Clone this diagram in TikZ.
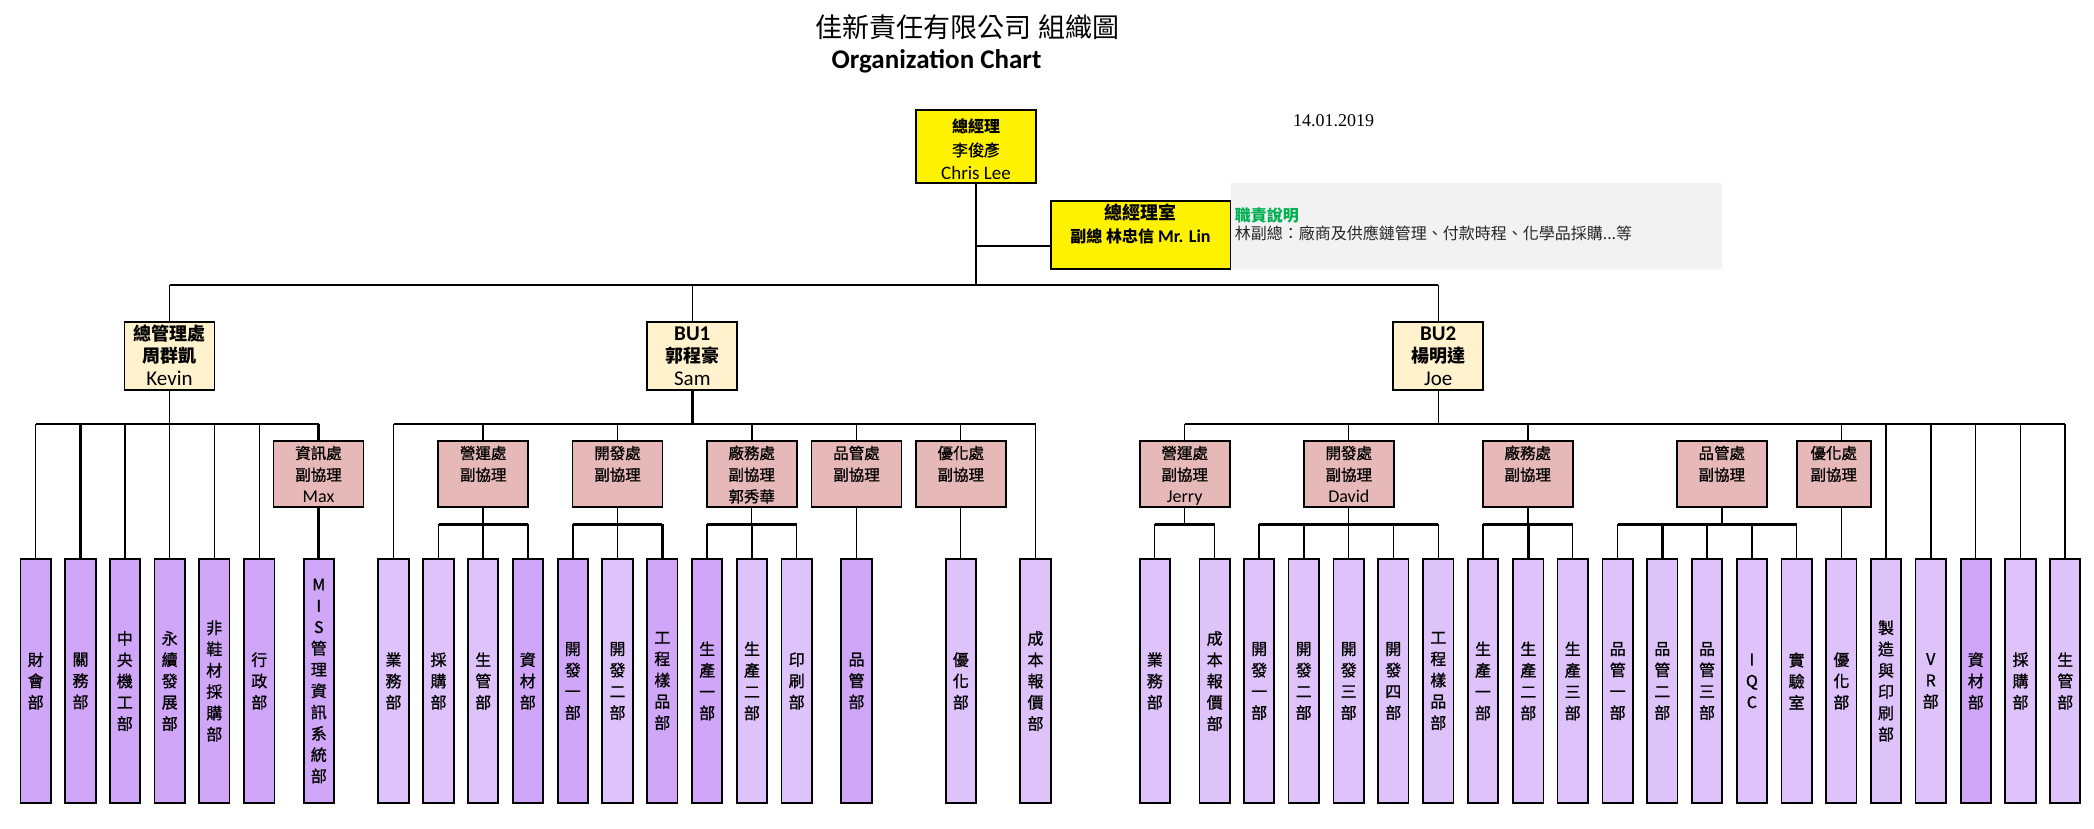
\documentclass[tikz,border=0pt]{standalone}
\usepackage{fontspec}
\setmainfont{Carlito}
\newfontfamily\cjk{Noto Sans CJK TC}
\newfontfamily\cjkm[FakeBold=1]{Noto Sans CJK TC}
\newfontfamily\serifd{Liberation Serif}
\usetikzlibrary{calc}
\definecolor{purpD}{RGB}{208,166,248}
\definecolor{purpL}{RGB}{222,194,250}
\definecolor{pinkc}{RGB}{230,184,183}
\definecolor{lyel}{RGB}{255,242,204}
\definecolor{grayc}{RGB}{242,242,242}
\definecolor{greenc}{RGB}{0,176,80}
\newcommand\lat[2]{{\normalfont\fontsize{#1}{#1}\selectfont #2}}
\newcommand\latb[2]{{\normalfont\bfseries\fontsize{#1}{#1}\selectfont #2}}
\tikzset{
  bx/.style={draw=black, line width=1.8pt, inner sep=0pt, align=center},
  vb/.style={bx, minimum width=30.3pt, minimum height=244.6pt, font=\cjkm\fontsize{16}{21.3}\selectfont},
  dk/.style={vb, fill=purpD},
  lt/.style={vb, fill=purpL},
  pk/.style={bx, fill=pinkc, minimum width=90pt, minimum height=66.6pt, font=\cjkm\fontsize{15.5}{21.7}\selectfont},
  lv/.style={bx, fill=lyel, minimum width=90pt, minimum height=68.3pt, font=\cjk\fontsize{18}{22.7}\selectfont},
  thn/.style={line width=1.2pt},
  thk/.style={line width=2.4pt},
}
\begin{document}
\begin{tikzpicture}[x=1pt,y=-1pt]
\useasboundingbox (0,0) rectangle (2094,829);
% titles
\node[font=\cjk\fontsize{27}{27}\selectfont] (title) at (967.5,27.5) {佳新責任有限公司 組織圖};
\node[font=\bfseries\fontsize{27}{27}\selectfont, anchor=base] (org) at (936.5,69) {Organization Chart};
\node[font=\serifd\fontsize{18}{18}\selectfont] (date) at (1333.5,120.7) {14.01.2019};
% top
\node[bx, fill=yellow, minimum width=120pt, minimum height=72.7pt, font=\cjk\fontsize{16}{23.3}\selectfont] (ceo) at (976,146.3)
  {\rule{0pt}{20.6pt}\bfseries 總經理\\{\cjkm 李俊彥}\\\lat{19}{Chris Lee}\rule[-1pt]{0pt}{1pt}};
\node[fill=grayc, inner sep=0pt, minimum width=491.6pt, minimum height=85.7pt, anchor=north west] (desc) at (1230.4,183.3) {};
\node[bx, fill=yellow, minimum width=179.8pt, minimum height=68pt, font=\cjk\bfseries\fontsize{18}{22.7}\selectfont] (gmo) at (1140.5,234.7)
  {\rule{0pt}{16.8pt}總經理室\\{\fontsize{16}{16}\selectfont 副總 林忠信} \latb{18}{Mr. Lin}\\\rule[-2pt]{0pt}{2pt}};
\node[anchor=west, inner sep=0pt, text=greenc, font=\cjk\bfseries\fontsize{16}{16}\selectfont] (dtitle) at (1234.6,215.7) {職責說明};
\node[anchor=west, inner sep=0pt, text=black!85, font=\cjk\fontsize{16}{16}\selectfont] (dtext) at (1234.6,233.3) {林副總：廠商及供應鏈管理、付款時程、化學品採購...等};
% level 2
\node[lv] (adm) at (169.5,355.85) {\rule{0pt}{16.9pt}\bfseries 總管理處\\\bfseries 周群凱\\\lat{21}{Kevin}\rule[-3pt]{0pt}{3pt}};
\node[lv] (bu1) at (692.3,355.85) {\rule{0pt}{16.9pt}\latb{21}{BU1}\\\bfseries 郭程豪\\\lat{21}{Sam}\rule[-3pt]{0pt}{3pt}};
\node[lv] (bu2) at (1438.2,355.85) {\rule{0pt}{16.9pt}\latb{21}{BU2}\\\bfseries 楊明達\\\lat{21}{Joe}\rule[-3pt]{0pt}{3pt}};
% level 3 (pink)
\node[pk] (xin) at (318.5,474) {\rule{0pt}{17.7pt}資訊處\\副協理\\\lat{18}{Max}\rule[-4.5pt]{0pt}{4.5pt}};
\node[pk] (p1) at (483.2,474) {\rule{0pt}{17.7pt}營運處\\副協理\\\rule[-4.5pt]{0pt}{4.5pt}};
\node[pk] (p2) at (617.5,474) {\rule{0pt}{17.7pt}開發處\\副協理\\\rule[-4.5pt]{0pt}{4.5pt}};
\node[pk] (p3) at (751.7,474) {\rule{0pt}{17.7pt}廠務處\\副協理\\郭秀華\rule[-4.5pt]{0pt}{4.5pt}};
\node[pk] (p4) at (856.5,474) {\rule{0pt}{17.7pt}品管處\\副協理\\\rule[-4.5pt]{0pt}{4.5pt}};
\node[pk] (p5) at (960.8,474) {\rule{0pt}{17.7pt}優化處\\副協理\\\rule[-4.5pt]{0pt}{4.5pt}};
\node[pk] (q1) at (1184.7,474) {\rule{0pt}{17.7pt}營運處\\副協理\\\lat{18}{Jerry}\rule[-4.5pt]{0pt}{4.5pt}};
\node[pk] (q2) at (1348.8,474) {\rule{0pt}{17.7pt}開發處\\副協理\\\lat{18}{David}\rule[-4.5pt]{0pt}{4.5pt}};
\node[pk] (q3) at (1527.7,474) {\rule{0pt}{17.7pt}廠務處\\副協理\\\rule[-4.5pt]{0pt}{4.5pt}};
\node[pk] (q4) at (1721.8,474) {\rule{0pt}{17.7pt}品管處\\副協理\\\rule[-4.5pt]{0pt}{4.5pt}};
\node[pk, minimum width=74.2pt] (q5) at (1833.7,474) {\rule{0pt}{17.7pt}優化處\\副協理\\\rule[-4.5pt]{0pt}{4.5pt}};
% bottom: admin
\node[dk] (a1) at (35.7,681) {財\\會\\部};
\node[dk] (a2) at (80.5,681) {關\\務\\部};
\node[dk] (a3) at (124.8,681) {中\\央\\機\\工\\部};
\node[dk] (a4) at (169.7,681) {永\\續\\發\\展\\部};
\node[dk] (a5) at (214.3,681) {非\\鞋\\材\\採\\購\\部};
\node[dk] (a6) at (259.3,681) {行\\政\\部};
\node[dk] (a7) at (318.8,681) {M\\I\\S\\管\\理\\資\\訊\\系\\統\\部};
% bottom: BU1
\node[lt] (b1) at (393.5,681) {業\\務\\部};
\node[lt] (b2) at (438.5,681) {採\\購\\部};
\node[lt] (b3) at (483.2,681) {生\\管\\部};
\node[dk] (b4) at (527.8,681) {資\\材\\部};
\node[dk] (b5) at (572.8,681) {開\\發\\一\\部};
\node[lt] (b6) at (617.5,681) {開\\發\\二\\部};
\node[dk] (b7) at (662.3,681) {工\\程\\樣\\品\\部};
\node[dk] (b8) at (707.2,681) {生\\產\\一\\部};
\node[lt] (b9) at (752,681) {生\\產\\二\\部};
\node[lt] (b10) at (796.7,681) {印\\刷\\部};
\node[dk] (b11) at (856.5,681) {品\\管\\部};
\node[lt] (b12) at (960.8,681) {優\\化\\部};
\node[lt] (b13) at (1035.5,681) {成\\本\\報\\價\\部};
% bottom: BU2
\node[lt] (c1) at (1154.8,681) {業\\務\\部};
\node[lt] (c2) at (1214.7,681) {成\\本\\報\\價\\部};
\node[lt] (c3) at (1259.2,681) {開\\發\\一\\部};
\node[lt] (c4) at (1303.7,681) {開\\發\\二\\部};
\node[lt] (c5) at (1348.7,681) {開\\發\\三\\部};
\node[lt] (c6) at (1393.3,681) {開\\發\\四\\部};
\node[lt] (c7) at (1438.3,681) {工\\程\\樣\\品\\部};
\node[lt] (c8) at (1483,681) {生\\產\\一\\部};
\node[lt] (c9) at (1528.3,681) {生\\產\\二\\部};
\node[lt] (c10) at (1572.7,681) {生\\產\\三\\部};
\node[lt] (c11) at (1617.7,681) {品\\管\\一\\部};
\node[lt] (c12) at (1662.3,681) {品\\管\\二\\部};
\node[lt] (c13) at (1707,681) {品\\管\\三\\部};
\node[lt] (c14) at (1751.9,681) {I\\Q\\C};
\node[lt] (c15) at (1796.6,681) {實\\驗\\室};
\node[lt] (c16) at (1841.4,681) {優\\化\\部};
\node[lt] (c17) at (1886,681) {製\\造\\與\\印\\刷\\部};
\node[lt] (c18) at (1930.7,681) {V\\R\\部};
\node[dk] (c19) at (1975.8,681) {資\\材\\部};
\node[lt] (c20) at (2020.5,681) {採\\購\\部};
\node[lt] (c21) at (2065.2,681) {生\\管\\部};
% bus levels
\coordinate (yM) at (0,285);
\coordinate (yL) at (0,246);
\coordinate (yB) at (0,424);
\coordinate (yS) at (0,524.3);
% top connectors
\draw[thk] (adm.north |- yM) -- (bu2.north |- yM);
\draw[thn] (ceo.south) -- (ceo.south |- yM);
\draw[thn] (ceo.south |- yL) -- (gmo.west |- yL);
\draw[thn] (adm.north |- yM) -- (adm.north);
\draw[thn] (bu1.north |- yM) -- (bu1.north);
\draw[thn] (bu2.north |- yM) -- (bu2.north);
% admin
\draw[thn] (adm.south) -- (adm.south |- yB);
\draw[thn] (a1.north |- yB) -- (xin.north |- yB);
\draw[thn] (a1.north |- yB) -- (a1.north);
\draw[thk] (a2.north |- yB) -- (a2.north);
\draw[thk] (a3.north |- yB) -- (a3.north);
\draw[thn] (a4.north |- yB) -- (a4.north);
\draw[thn] (a5.north |- yB) -- (a5.north);
\draw[thn] (a6.north |- yB) -- (a6.north);
\draw[thk] (xin.north |- yB) -- (xin.north);
\draw[thk] (xin.south) -- (xin.south |- a7.north);
% BU1
\draw[thk] (bu1.south) -- (bu1.south |- yB);
\draw[thn] (b1.north |- yB) -- (b13.north |- yB);
\draw[thn] (b1.north |- yB) -- (b1.north);
\draw[thk] (p1.north |- yB) -- (p1.north);
\draw[thn] (p2.north |- yB) -- (p2.north);
\draw[thk] (p3.north |- yB) -- (p3.north);
\draw[thn] (p4.north |- yB) -- (p4.north);
\draw[thn] (p5.north |- yB) -- (p5.north);
\draw[thn] (b13.north |- yB) -- (b13.north);
\draw[thk] (p1.south) -- (p1.south |- yS);
\draw[thk] (b2.north |- yS) -- (b4.north |- yS);
\draw[thn] (b2.north |- yS) -- (b2.north);
\draw[thk] (b3.north |- yS) -- (b3.north);
\draw[thk] (b4.north |- yS) -- (b4.north);
\draw[thn] (p2.south) -- (p2.south |- yS);
\draw[thk] (b5.north |- yS) -- (b7.north |- yS);
\draw[thk] (b5.north |- yS) -- (b5.north);
\draw[thn] (b6.north |- yS) -- (b6.north);
\draw[thk] (b7.north |- yS) -- (b7.north);
\draw[thn] (p3.south) -- (p3.south |- yS);
\draw[thk] (b8.north |- yS) -- (b10.north |- yS);
\draw[thk] (b8.north |- yS) -- (b8.north);
\draw[thk] (b9.north |- yS) -- (b9.north);
\draw[thn] (b10.north |- yS) -- (b10.north);
\draw[thn] (p4.south) -- (p4.south |- b11.north);
\draw[thn] (p5.south) -- (p5.south |- b12.north);
% BU2
\draw[thn] (bu2.south) -- (bu2.south |- yB);
\draw[thn] (q1.north |- yB) -- (c21.north |- yB);
\draw[thn] (q1.north |- yB) -- (q1.north);
\draw[thn] (q2.north |- yB) -- (q2.north);
\draw[thk] (q3.north |- yB) -- (q3.north);
\draw[thn] (c16.north |- yB) -- (c16.north |- q5.north);
\draw[thk] (c17.north |- yB) -- (c17.north);
\draw[thk] (c18.north |- yB) -- (c18.north);
\draw[thn] (c19.north |- yB) -- (c19.north);
\draw[thn] (c20.north |- yB) -- (c20.north);
\draw[thk] (c21.north |- yB) -- (c21.north);
\draw[thn] (q1.south) -- (q1.south |- yS);
\draw[thk] (c1.north |- yS) -- (c2.north |- yS);
\draw[thn] (c1.north |- yS) -- (c1.north);
\draw[thn] (c2.north |- yS) -- (c2.north);
\draw[thn] (q2.south) -- (q2.south |- yS);
\draw[thk] (c3.north |- yS) -- (c7.north |- yS);
\draw[thk] (c3.north |- yS) -- (c3.north);
\draw[thk] (c4.north |- yS) -- (c4.north);
\draw[thn] (c5.north |- yS) -- (c5.north);
\draw[thn] (c6.north |- yS) -- (c6.north);
\draw[thn] (c7.north |- yS) -- (c7.north);
\draw[thk] (q3.south) -- (q3.south |- yS);
\draw[thk] (c8.north |- yS) -- (c10.north |- yS);
\draw[thk] (c8.north |- yS) -- (c8.north);
\draw[thk] (c9.north |- yS) -- (c9.north);
\draw[thn] (c10.north |- yS) -- (c10.north);
\draw[thk] (q4.south) -- (q4.south |- yS);
\draw[thk] (c11.north |- yS) -- (c15.north |- yS);
\draw[thn] (c11.north |- yS) -- (c11.north);
\draw[thk] (c12.north |- yS) -- (c12.north);
\draw[thk] (c13.north |- yS) -- (c13.north);
\draw[thn] (c14.north |- yS) -- (c14.north);
\draw[thn] (c15.north |- yS) -- (c15.north);
\draw[thn] (c16.north |- q5.south) -- (c16.north);
\end{tikzpicture}
\end{document}
